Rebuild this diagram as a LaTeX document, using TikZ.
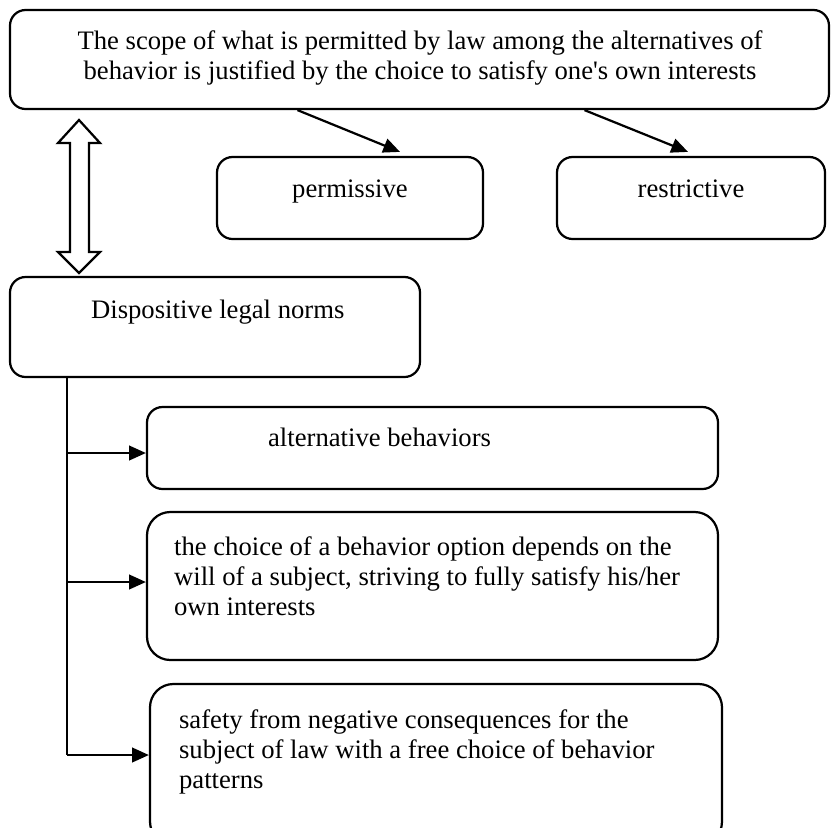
\documentclass[tikz,border=0pt]{standalone}
\usepackage{fontspec}
\setmainfont{Liberation Serif}
\usetikzlibrary{arrows.meta, positioning, calc}
\def\pxu{0.45pt}

\begin{document}
\begin{tikzpicture}[x=\pxu, y=-\pxu, font=\fontsize{12}{13.5}\selectfont, line width=1pt]
    \tikzstyle{box}=[draw=black, rounded corners=7pt, inner sep=0pt]
    \tikzstyle{tall box}=[box, rounded corners=10.5pt]
    \tikzstyle{annot}=[inner sep=0pt, anchor=base west, align=left]
    \tikzstyle{arr}=[-{Triangle[length=7.5pt, width=6.5pt]}, line width=1pt]
    \tikzstyle{spine}=[line width=0.6pt]

    \clip (0,0) rectangle (831,827);

    % Draw the top box and its two kinds
    % (base of a text with several lines is the base of its last line)
    \node[box, minimum width=819*\pxu, minimum height=99*\pxu] (scope) at (419.5,59.5) {};
    \node[annot, anchor=base, align=center] (scope-txt) at (420,79)
        {The scope of what is permitted by law among the alternatives of\\
         behavior is justified by the choice to satisfy one\textquotesingle s own interests};

    \node[box, minimum width=266*\pxu, minimum height=82*\pxu] (perm) at (350,198) {};
    \node[annot, anchor=base] (perm-txt) at (350,197) {permissive};

    \node[box, minimum width=268*\pxu, minimum height=82*\pxu] (restr) at (691,198) {};
    \node[annot, anchor=base] (restr-txt) at (691,197) {restrictive};

    % Draw the dispositive norms box
    \node[box, minimum width=410*\pxu, minimum height=100*\pxu] (disp) at (215,327) {};
    \node[annot] (disp-txt) at (90,318) {Dispositive legal norms};

    % Draw the three features
    \node[box, minimum width=571*\pxu, minimum height=82*\pxu] (alt) at (432.5,448) {};
    \node[annot] (alt-txt) at (267,446) {alternative behaviors};

    \node[tall box, minimum width=571*\pxu, minimum height=148*\pxu] (choice) at (432.5,586) {};
    \node[annot] (choice-txt) at (173,615)
        {the choice of a behavior option depends on the\\
         will of a subject, striving to fully satisfy his/her\\
         own interests};

    \node[tall box, minimum width=572*\pxu, minimum height=161*\pxu] (safe) at (436,764.5) {};
    \node[annot] (safe-txt) at (178,788)
        {safety from negative consequences for the\\
         subject of law with a free choice of behavior\\
         patterns};

    % Connect the top box with its kinds
    \draw[arr] ($(scope.south)+(-122,0)$) -- ($(perm.north)+(50,-4)$);
    \draw[arr] ($(scope.south)+(165,0)$) -- ($(restr.north)+(-3,-4)$);

    % The hollow double arrow between the top box and the norms
    \draw (79,120) -- (100,143) -- (89,143) -- (89,252) -- (100,252) -- (79,273)
        -- (58,252) -- (70,252) -- (70,143) -- (58,143) -- cycle;

    % Connect the norms with every feature
    \coordinate (j1) at (67,453);
    \coordinate (j2) at (67,582);
    \coordinate (j3) at (67,755);
    \draw[spine] (disp.south -| j1) -- (j3);
    \foreach \dest/\j in {alt/j1, choice/j2, safe/j3}
        \draw[arr] (\j) -- (\j -| \dest.west);

\end{tikzpicture}
\end{document}
